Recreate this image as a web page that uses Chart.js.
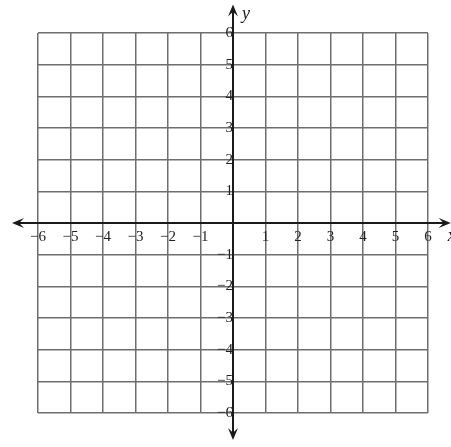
<!DOCTYPE html>
<html>
<head>
<meta charset="utf-8">
<script src="https://cdn.jsdelivr.net/npm/chart.js@4/dist/chart.umd.min.js"></script>
<style>
  html, body { margin: 0; padding: 0; background: #fff; }
  #wrap { width: 451px; height: 447px; }
</style>
</head>
<body>
<div id="wrap"><canvas id="grid" width="451" height="447"></canvas></div>
<script>
// axis range and ticks
const xRange = [-6, 6];
const yRange = [-6, 6];
const tickStep = 1;
const axisNames = ["x", "y"];

const SERIF = "'Liberation Serif', 'DejaVu Serif', serif";
const minus = v => v === 0 ? "" : (v < 0 ? "\u2212" + Math.abs(v) : String(v));

// axes through the origin, with arrowheads on both ends
const arrowAxes = {
  id: "arrowAxes",
  afterDraw(chart) {
    const { ctx, scales: { x, y } } = chart;
    const ox = x.getPixelForValue(0), oy = y.getPixelForValue(0);
    const x0 = x.getPixelForValue(-6.8), x1 = x.getPixelForValue(6.7);
    const y0 = y.getPixelForValue(-6.85), y1 = y.getPixelForValue(6.9);
    const head = (tx, ty, dx, dy) => {
      const L = 12, W = 5;
      ctx.beginPath();
      ctx.moveTo(tx, ty);
      ctx.lineTo(tx - dx * L - dy * W, ty - dy * L + dx * W);
      ctx.lineTo(tx - dx * L * 0.6, ty - dy * L * 0.6);
      ctx.lineTo(tx - dx * L + dy * W, ty - dy * L - dx * W);
      ctx.closePath();
      ctx.fill();
    };
    ctx.save();
    ctx.strokeStyle = "#1a1a1a";
    ctx.fillStyle = "#1a1a1a";
    ctx.lineWidth = 2;
    ctx.beginPath();
    ctx.moveTo(x0 + 4, oy); ctx.lineTo(x1 - 4, oy);
    ctx.moveTo(ox, y1 + 4); ctx.lineTo(ox, y0 - 4);
    ctx.stroke();
    head(x1, oy, 1, 0); head(x0, oy, -1, 0);
    head(ox, y1, 0, -1); head(ox, y0, 0, 1);
    ctx.font = "italic 18px " + SERIF;
    ctx.textBaseline = "middle";
    ctx.textAlign = "left";
    ctx.fillText(axisNames[0], x1 - 3, oy + 13);
    ctx.fillText(axisNames[1], ox + 9, y1 + 10);
    ctx.restore();
  }
};

new Chart(document.getElementById("grid"), {
  type: "scatter",
  data: { datasets: [{ data: [], pointRadius: 0 }] },
  options: {
    responsive: false,
    animation: false,
    layout: { padding: { left: 38, right: 23, top: 33, bottom: 34 } },
    plugins: { legend: { display: false }, tooltip: { enabled: false } },
    scales: {
      x: {
        type: "linear", min: xRange[0], max: xRange[1],
        position: { y: 0 },
        border: { display: false },
        grid: { color: "#6e6e6e", lineWidth: 1.5, drawTicks: false },
        ticks: {
          stepSize: tickStep, autoSkip: false, maxRotation: 0, padding: 5,
          color: "#222", font: { family: SERIF, size: 15 },
          callback: v => minus(v)
        }
      },
      y: {
        type: "linear", min: yRange[0], max: yRange[1],
        position: { x: 0 },
        border: { display: false },
        grid: { color: "#6e6e6e", lineWidth: 1.5, drawTicks: false },
        ticks: {
          stepSize: tickStep, autoSkip: false, padding: 5,
          color: "#222", font: { family: SERIF, size: 15 },
          callback: v => minus(v)
        }
      }
    }
  },
  plugins: [arrowAxes]
});
</script>
</body>
</html>
